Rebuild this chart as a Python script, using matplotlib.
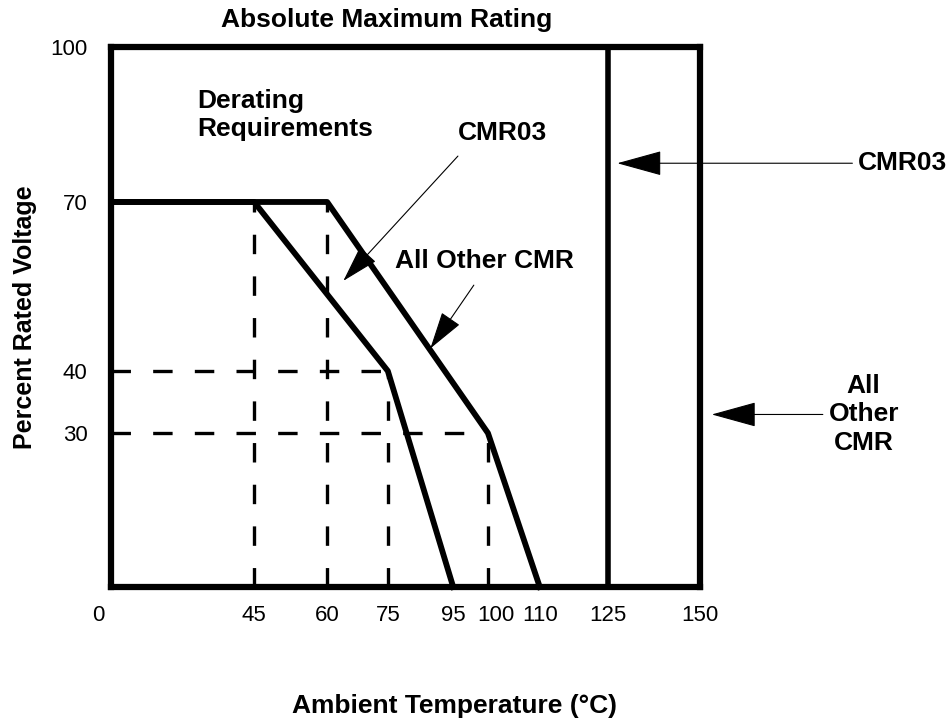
import numpy as np
import matplotlib.pyplot as plt
from matplotlib.scale import FuncScale
from matplotlib.transforms import ScaledTranslation

plt.rcParams['font.family'] = ['Liberation Sans', 'DejaVu Sans']
plt.rcParams['lines.scale_dashes'] = False

# derating curves: ambient temperature (degC) vs percent rated voltage
temp_cmr03 = [0, 45, 75, 95]
volt_cmr03 = [70, 70, 40, 0]
temp_other = [0, 60, 100, 110]
volt_other = [70, 70, 30, 0]

# knee points that get dashed guide lines
knee_temp = [45, 60, 75, 100]
knee_volt = [70, 70, 40, 30]

# absolute maximum rating lines
max_cmr03 = 125
max_other = 150

xticks = [0, 45, 60, 75, 95, 100, 110, 125, 150]
yticks = [30, 40, 70, 100]

# the sketch is not drawn to scale, so both axes are piecewise linear
x_breaks = [0, 45, 60, 75, 95, 100, 110, 125, 150]
x_frac = [0, 0.243, 0.367, 0.470, 0.581, 0.640, 0.728, 0.844, 1.0]
y_breaks = [0, 30, 40, 70, 100]
y_frac = [0, 0.285, 0.400, 0.713, 1.0]

BOLD = dict(fontsize=19, fontweight='bold', color='black')

fig = plt.figure(figsize=(9.48, 7.23), dpi=100)
ax = fig.add_axes([111 / 948, 136 / 723, 589 / 948, 540 / 723])

ax.set_xscale(FuncScale(ax, (lambda v: np.interp(v, x_breaks, x_frac),
                             lambda v: np.interp(v, x_frac, x_breaks))))
ax.set_yscale(FuncScale(ax, (lambda v: np.interp(v, y_breaks, y_frac),
                             lambda v: np.interp(v, y_frac, y_breaks))))
ax.set_xlim(0, max_other)
ax.set_ylim(0, 100)

# dashed guides from the knees down to the axes
dash = (0, (14, 16))
for t, v in zip(knee_temp, knee_volt):
    ax.plot([t, t], [0, v], color='black', lw=2.4, ls=dash, dash_capstyle='butt')
for t, v in zip(knee_temp[2:], knee_volt[2:]):
    ax.plot([0, t], [v, v], color='black', lw=2.4, ls=dash, dash_capstyle='butt')

ax.plot(temp_cmr03, volt_cmr03, color='black', lw=4.2, clip_on=False)
ax.plot(temp_other, volt_other, color='black', lw=4.2, clip_on=False)
ax.axvline(max_cmr03, color='black', lw=4)

for s in ax.spines.values():
    s.set_linewidth(4.5)

ax.set_xticks(xticks)
ax.set_xticklabels([str(t) for t in xticks])
ax.set_yticks(yticks)
ax.set_yticklabels([str(t) for t in yticks])
ax.tick_params(axis='both', length=0, labelsize=16)
ax.tick_params(axis='x', pad=13)
ax.tick_params(axis='y', pad=17)

# nudge a couple of crowded x labels
ticks = ax.xaxis.get_major_ticks()
for i, dx in [(0, -13), (5, 8)]:
    lab = ticks[i].label1
    lab.set_transform(lab.get_transform() + ScaledTranslation(dx / 100, 0, fig.dpi_scale_trans))

# labels inside the box
ax.text(0.146, 0.922, 'Derating\nRequirements', transform=ax.transAxes,
        ha='left', va='top', linespacing=1.2, **BOLD)
ax.text(0.589, 0.828, 'CMR03', transform=ax.transAxes, ha='left', va='baseline', **BOLD)
ax.text(0.482, 0.591, 'All Other CMR', transform=ax.transAxes, ha='left', va='baseline', **BOLD)

inner = dict(arrowstyle='-|>,head_length=1.2,head_width=0.35', mutation_scale=20,
             lw=0.8, color='black', shrinkA=0, shrinkB=0)
ax.annotate('', xy=(64, 56), xytext=(0.589, 0.798), textcoords='axes fraction',
            arrowprops=inner)
ax.annotate('', xy=(88, 44), xytext=(0.616, 0.559), textcoords='axes fraction',
            arrowprops=inner)

# pointers to the maximum rating lines
outer = dict(arrowstyle='-|>,head_length=1.45,head_width=0.4', mutation_scale=20,
             lw=0.8, color='black', shrinkA=2, shrinkB=0)
ax.annotate('CMR03', xy=(127.5, 77.5), xytext=(0.905, 77.5),
            textcoords=('figure fraction', 'data'), ha='left', va='center',
            arrowprops=outer, annotation_clip=False, **BOLD)
ax.annotate('All\nOther\nCMR', xy=(1.02, 33), xycoords=('axes fraction', 'data'),
            xytext=(0.911, 33), textcoords=('figure fraction', 'data'),
            ha='center', va='center', multialignment='center', linespacing=1.25,
            arrowprops=outer, annotation_clip=False, **BOLD)

fig.text(387 / 948, 1 - 20 / 723, 'Absolute Maximum Rating', ha='center', va='center', **BOLD)
fig.text(454 / 948, 1 - 713 / 723, 'Ambient Temperature (°C)', ha='center', va='baseline', **BOLD)
fig.text(25 / 948, 1 - 317 / 723, 'Percent Rated Voltage', rotation=90,
         ha='center', va='center', fontsize=18, fontweight='bold')

fig.savefig('out.png', dpi=100)
